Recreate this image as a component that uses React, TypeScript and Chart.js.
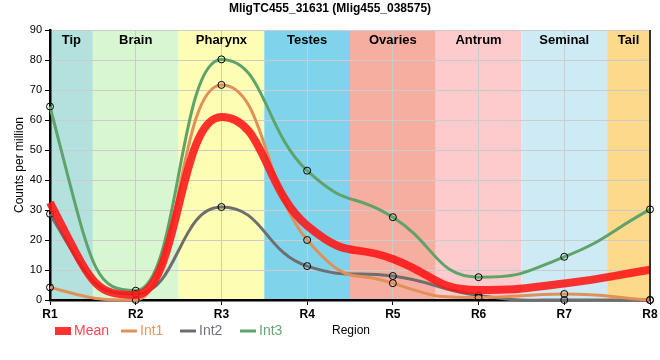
import React, { useEffect, useRef } from 'react';
import { Chart, registerables } from 'chart.js';

Chart.register(...registerables);

const categories = ['R1', 'R2', 'R3', 'R4', 'R5', 'R6', 'R7', 'R8'];
const meanValues = [32.5, 1.7, 61, 24.8, 13.7, 3.3, 5.5, 10.1];
const int1Values = [4.2, 0, 71.7, 20, 5.6, 0.8, 2.0, 0];
const int2Values = [28.7, 2.0, 31, 11.3, 8.0, 1.5, 0, 0];
const int3Values = [64.5, 3.1, 80.2, 43.1, 27.6, 7.6, 14.4, 30.2];
const regionNames = ['Tip', 'Brain', 'Pharynx', 'Testes', 'Ovaries', 'Antrum', 'Seminal', 'Tail'];
const regionColors = ['#b3e1dd', '#d8f6d0', '#fefdb4', '#7fd4eb', '#f5ae9f', '#fdcbcc', '#ceebf5', '#fdda8b'];
const yTicks = { min: 0, max: 90, step: 10 };
const titleText = 'MligTC455_31631 (Mlig455_038575)';
const yTitle = 'Counts per million';
const xTitle = 'Region';

const FONT = '"Liberation Sans", Arial, sans-serif';
const C_MEAN = 'rgba(255,20,20,0.88)';
const C_INT1 = '#e0915a';
const C_INT2 = '#6e6e6e';
const C_INT3 = '#5fa36a';

// curve shaping: widen control handles, steepen the first end tangent
const HANDLE_SCALE = 1.5;
const START_SLOPE_SCALE = 1.8;
const END_SLOPE_SCALE = 1.0;

const seriesLegend = [
  { label: 'Mean', color: C_MEAN, text: '#ff4550', box: true },
  { label: 'Int1', color: C_INT1, text: '#e8955f', box: false },
  { label: 'Int2', color: C_INT2, text: '#707080', box: false },
  { label: 'Int3', color: C_INT3, text: '#62a873', box: false },
];

const decorPlugin = {
  id: 'decor',
  beforeDraw(chart: any) {
    const { ctx, chartArea, scales } = chart;
    const x = scales.x;
    ctx.save();
    regionNames.forEach((_, i) => {
      const l = Math.max(chartArea.left, x.getPixelForValue(i - 0.5));
      const r = Math.min(chartArea.right, x.getPixelForValue(i + 0.5));
      ctx.fillStyle = regionColors[i];
      ctx.fillRect(l, chartArea.top, r - l, chartArea.bottom - chartArea.top);
    });
    ctx.restore();
  },
  beforeDatasetsDraw(chart: any) {
    const { ctx, chartArea, scales } = chart;
    const x = scales.x;
    ctx.save();
    ctx.font = `bold 13px ${FONT}`;
    ctx.fillStyle = '#000';
    ctx.textAlign = 'center';
    ctx.textBaseline = 'middle';
    regionNames.forEach((name, i) => {
      const l = Math.max(chartArea.left, x.getPixelForValue(i - 0.5));
      const r = Math.min(chartArea.right, x.getPixelForValue(i + 0.5));
      ctx.fillText(name, (l + r) / 2, chartArea.top + 10);
    });
    ctx.restore();

    chart.data.datasets.forEach((_: any, di: number) => {
      const meta = chart.getDatasetMeta(di);
      const line = meta.dataset;
      if (!line || !line.points) return;
      line.updateControlPoints(chartArea, 'x');
      const pts = line.points;
      const n = pts.length;
      pts.forEach((p: any, i: number) => {
        if (p._reshaped) return;
        p._reshaped = true;
        if (i > 0) {
          p.cp1x = p.x + HANDLE_SCALE * (p.cp1x - p.x);
          p.cp1y = p.y + HANDLE_SCALE * (p.cp1y - p.y) * (i === n - 1 ? END_SLOPE_SCALE : 1);
        }
        if (i < n - 1) {
          p.cp2x = p.x + HANDLE_SCALE * (p.cp2x - p.x);
          p.cp2y = p.y + HANDLE_SCALE * (p.cp2y - p.y) * (i === 0 ? START_SLOPE_SCALE : 1);
        }
      });
    });
  },
  afterDraw(chart: any) {
    const { ctx, chartArea, width } = chart;
    ctx.save();
    ctx.strokeStyle = '#000';
    ctx.lineWidth = 1.5;
    ctx.beginPath();
    ctx.moveTo(chartArea.right, chartArea.top);
    ctx.lineTo(chartArea.right, chartArea.bottom + 1);
    ctx.stroke();
    ctx.fillStyle = '#000';
    ctx.font = `bold 12px ${FONT}`;
    ctx.textAlign = 'center';
    ctx.textBaseline = 'middle';
    ctx.fillText(titleText, width / 2, 9);
    ctx.font = `12px ${FONT}`;
    ctx.save();
    ctx.translate(20, (chartArea.top + chartArea.bottom) / 2);
    ctx.rotate(-Math.PI / 2);
    ctx.fillText(yTitle, 0, 0);
    ctx.restore();
    ctx.fillText(xTitle, (chartArea.left + chartArea.right) / 2 + 1, 331);
    const starts = [55, 121, 180, 240];
    ctx.textAlign = 'left';
    ctx.font = `14px ${FONT}`;
    seriesLegend.forEach((s, i) => {
      const x0 = starts[i];
      if (s.box) {
        ctx.fillStyle = s.color;
        ctx.fillRect(x0, 327, 16, 8);
      } else {
        ctx.strokeStyle = s.color;
        ctx.lineWidth = 3;
        ctx.beginPath();
        ctx.moveTo(x0, 331);
        ctx.lineTo(x0 + 16, 331);
        ctx.stroke();
      }
      ctx.fillStyle = s.text;
      ctx.fillText(s.label, x0 + 19, 331.5);
    });
    ctx.restore();
  },
};

export default function App() {
  const ref = useRef<HTMLCanvasElement>(null);
  useEffect(() => {
    if (!ref.current) return;
    const pointCfg = {
      pointRadius: 3.5,
      pointBorderColor: '#000',
      pointBackgroundColor: 'rgba(0,0,0,0)',
      pointBorderWidth: 1,
    };
    const common = { cubicInterpolationMode: 'monotone', clip: false, fill: false, capBezierPoints: false };
    const chart = new Chart(ref.current, {
      type: 'line',
      data: {
        labels: categories,
        datasets: [
          { label: 'Mean', data: meanValues, borderColor: C_MEAN, borderWidth: 8, pointRadius: 0, ...common },
          { label: 'Int1', data: int1Values, borderColor: C_INT1, borderWidth: 3, ...pointCfg, ...common },
          { label: 'Int2', data: int2Values, borderColor: C_INT2, borderWidth: 3, ...pointCfg, ...common },
          { label: 'Int3', data: int3Values, borderColor: C_INT3, borderWidth: 3, ...pointCfg, ...common },
        ],
      } as any,
      options: {
        responsive: false,
        animation: false,
        layout: { padding: { top: 30, left: 0, right: 10, bottom: 30 } },
        plugins: { legend: { display: false }, title: { display: false }, tooltip: { enabled: false } },
        scales: {
          x: {
            type: 'category',
            offset: false,
            afterFit: (s: any) => { s.height = 30; },
            grid: { color: '#cccccc', tickColor: '#000', tickLength: 5, lineWidth: 1 },
            border: { color: '#000', width: 2.5 },
            ticks: { color: '#000', font: { family: FONT, size: 12, weight: 'bold' }, padding: 2, maxRotation: 0 },
          },
          y: {
            min: yTicks.min,
            max: yTicks.max,
            afterFit: (s: any) => { s.width = 50; },
            grid: { color: '#cccccc', tickColor: '#000', tickLength: 5, lineWidth: 1 },
            border: { color: '#000', width: 2.5 },
            ticks: { stepSize: yTicks.step, color: '#000', font: { family: FONT, size: 11 }, padding: 3 },
          },
        },
      } as any,
      plugins: [decorPlugin],
    });
    return () => chart.destroy();
  }, []);
  return (
    <div style={{ position: 'fixed', left: 0, top: 0, width: 660, height: 360, background: '#fff' }}>
      <canvas ref={ref} width={660} height={360} />
    </div>
  );
}
